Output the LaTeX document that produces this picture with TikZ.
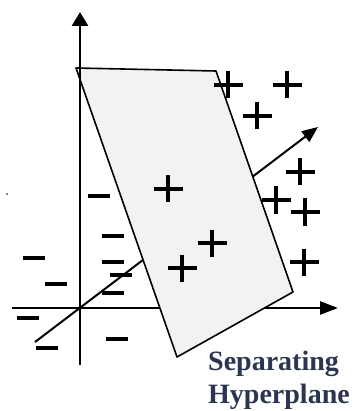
\documentclass[tikz,border=0pt]{standalone}
\usepackage{fontspec}
\setmainfont{Liberation Serif}
\usetikzlibrary{arrows.meta}
\definecolor{planefill}{HTML}{F2F2F2}
\definecolor{labelcol}{HTML}{2A3550}
\tikzset{
  axisline/.style={line width=2.6pt,-{Triangle[length=14pt,width=16pt]}},
  diagline/.style={line width=2pt,-{Triangle[length=16pt,width=13pt]}},
  plane/.style={fill=planefill,draw=black,line width=1.6pt,line join=round},
  sign/.style={line width=3.6pt},
  lbl/.style={font=\fontsize{28}{35}\selectfont\bfseries,text=labelcol,inner sep=0pt,anchor=base west},
  plus/.pic={\draw[sign] (-14.5,0) -- (14.5,0); \draw[sign] (0,-13.5) -- (0,13.5);},
  minus/.pic={\draw[sign] (-11,0) -- (11,0);}
}
\begin{document}
\begin{tikzpicture}[x=1pt,y=-1pt]
\useasboundingbox (0,0) rectangle (356,411);
% axes
\coordinate (vbot) at (80,365);
\coordinate (vtop) at (80,12);
\coordinate (hl) at (12,308);
\coordinate (hr) at (338,308);
\coordinate (dl) at (35,342);
\coordinate (dr) at (318,127);
\draw[axisline,-{Triangle[length=18pt,width=13pt]}] (hl) -- (hr);
\draw[diagline] (dl) -- (dr);
% plane
\coordinate (p1) at (76,68);
\coordinate (p2) at (216,71);
\coordinate (p3) at (293,292);
\coordinate (p4) at (177,357);
\draw[plane] (p1) -- (p2) -- (p3) -- (p4) -- cycle;
\draw[axisline] (vbot) -- (vtop);
% tiny dot
\fill (7,194) circle (0.9);
% plus signs
\foreach \p in {(228,85),(287,85),(257,116),(300,172),(276,200),(168,189),(305,212),(212,243),(182,268),(304,262)}
  \pic at \p {plus};
% minus signs
\foreach \p in {(99,196),(113,236),(113,262),(121,275),(113,293),(34,258),(56,284),(28,318),(117,339),(47,348)}
  \pic at \p {minus};
% label
\node[lbl] (l1) at (208,370) {Separating};
\node[lbl] (l2) at (208,403.5) {Hyperplane};
\end{tikzpicture}
\end{document}
